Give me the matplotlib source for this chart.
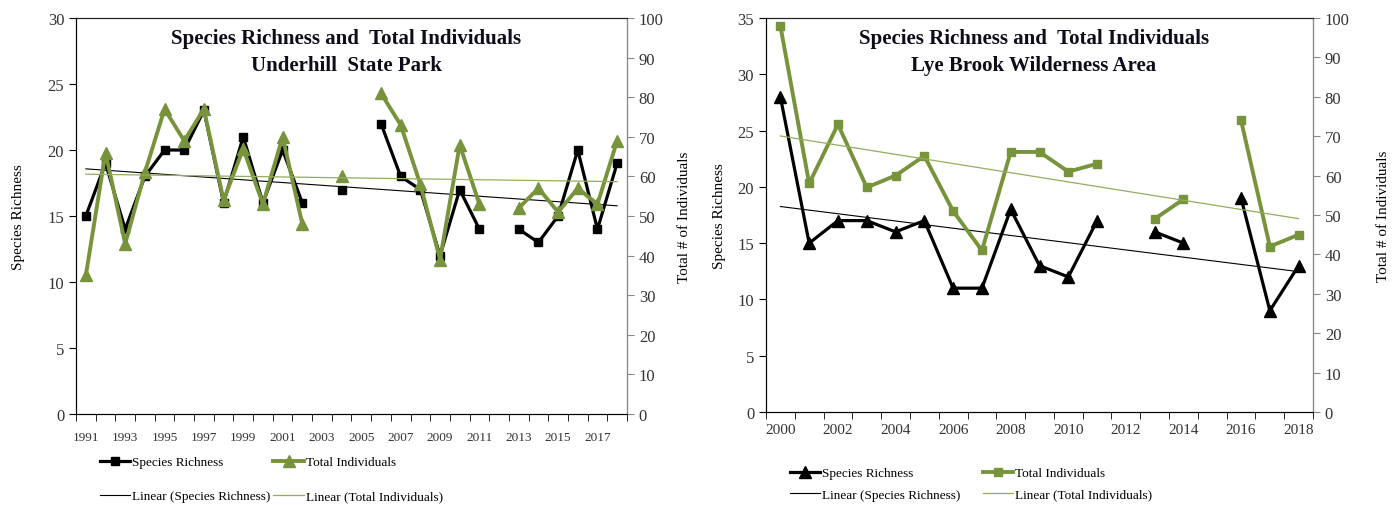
import numpy as np
import matplotlib
matplotlib.use("Agg")
from matplotlib import pyplot as plt
from matplotlib.ticker import MultipleLocator, FixedLocator, NullFormatter

nan = np.nan

# Underhill State Park
uh_years = list(range(1991, 2019))
uh_richness = [15, 19, 14, 18, 20, 20, 23, 16, 21, 16, 20, 16, nan, 17, nan,
               22, 18, 17, 12, 17, 14, nan, 14, 13, 15, 20, 14, 19]
uh_total = [35, 66, 43, 61, 77, 69, 77, 54, 67, 53, 70, 48, nan, 60, nan,
            81, 73, 58, 39, 68, 53, nan, 52, 57, 51, 57, 53, 69]

# Lye Brook Wilderness Area
lb_years = list(range(2000, 2019))
lb_richness = [28, 15, 17, 17, 16, 17, 11, 11, 18, 13, 12, 17, nan, 16, 15,
               nan, 19, 9, 13]
lb_total = [98, 58, 73, 57, 60, 65, 51, 41, 66, 66, 61, 63, nan, 49, 54,
            nan, 74, 42, 45]

GREEN = "#77933C"
GREEN_LT = "#93AD5C"
TXT = "#333333"
plt.rcParams["font.family"] = ["Liberation Serif", "DejaVu Serif"]

fig = plt.figure(figsize=(13.97, 5.06), dpi=100)


def trend(vals):
    y = np.array(vals, dtype=float)
    x = np.arange(1, len(y) + 1)
    ok = ~np.isnan(y)
    k, b = np.polyfit(x[ok], y[ok], 1)
    return k * x + b


def panel(rect, years, rich, total, ylim_l, step_l, title, rich_m, tot_m,
          rich_ms, tot_ms, xfs, opt):
    ax = fig.add_axes(rect)
    ax2 = ax.twinx()
    n = len(years)
    x = np.arange(n)

    l1, = ax.plot(x, rich, color="black", lw=2.3, marker=rich_m, ms=rich_ms,
                  label="Species Richness")
    t1, = ax.plot(x, trend(rich), color="black", lw=0.8,
                  label="Linear (Species Richness)")
    l2, = ax2.plot(x, total, color=GREEN, lw=2.8, marker=tot_m, ms=tot_ms,
                   label="Total Individuals")
    t2, = ax2.plot(x, trend(total), color=GREEN_LT, lw=0.9,
                   label="Linear (Total Individuals)")

    ax.set_xlim(-0.5, n - 0.5)
    ax.set_ylim(*ylim_l)
    ax2.set_ylim(0, 100)
    ax.yaxis.set_major_locator(MultipleLocator(step_l))
    ax2.yaxis.set_major_locator(MultipleLocator(10))

    ax.xaxis.set_major_locator(FixedLocator(x[::2]))
    ax.set_xticklabels([str(y) for y in years[::2]])
    ax.xaxis.set_minor_locator(FixedLocator(np.arange(n + 1) - 0.5))
    ax.xaxis.set_minor_formatter(NullFormatter())
    ax.tick_params(axis="x", which="major", length=0, pad=opt["xpad"],
                   labelsize=xfs, labelcolor=TXT)
    ax.tick_params(axis="x", which="minor", length=5, direction="out")
    ax.tick_params(axis="y", length=5, direction="out", labelsize=12,
                   labelcolor=TXT)
    ax2.tick_params(axis="y", length=5, direction="out", labelsize=12,
                    labelcolor=TXT, color="#888888")
    for s in ["left", "bottom", "top"]:
        ax.spines[s].set_color("#222222")
    ax2.spines["right"].set_color("#888888")
    ax2.spines["top"].set_color("#222222")

    ax.set_ylabel("Species Richness", fontsize=11, color="black",
                  labelpad=opt["lpad"])
    ax2.set_ylabel("Total # of Individuals", fontsize=11, color="black",
                   labelpad=opt["rpad"])

    ax.text(0.49, 0.975, title, transform=ax.transAxes, ha="center", va="top",
            fontsize=15, fontweight="bold", color="#0d0d1a",
            linespacing=1.45, zorder=10)

    fig.legend(handles=[l1, t1, l2, t2], ncol=2, frameon=False,
               loc="upper left", bbox_to_anchor=opt["anchor"],
               fontsize=9.5, handlelength=2.3, handletextpad=0.15,
               columnspacing=opt["colsp"], labelspacing=opt["labsp"],
               borderpad=0, borderaxespad=0)
    return ax, ax2


panel([0.0544, 0.1798, 0.3944, 0.7826], uh_years, uh_richness, uh_total,
      (0, 30), 5, "Species Richness and  Total Individuals\nUnderhill  State Park",
      "s", "^", 6, 8.5, 9.5,
      {"anchor": (100 / 1397, 1 - 457 / 506), "colsp": 0.2, "labsp": 1.65,
       "xpad": 12, "lpad": 16, "rpad": 10})

panel([0.5483, 0.1838, 0.3916, 0.7787], lb_years, lb_richness, lb_total,
      (0, 35), 5, "Species Richness and  Total Individuals\nLye Brook Wilderness Area",
      "^", "s", 8.5, 6, 11,
      {"anchor": (790 / 1397, 1 - 468 / 506), "colsp": 1.7, "labsp": 0.7,
       "xpad": 8, "lpad": 8, "rpad": 20})

fig.savefig("out.png", dpi=100)
